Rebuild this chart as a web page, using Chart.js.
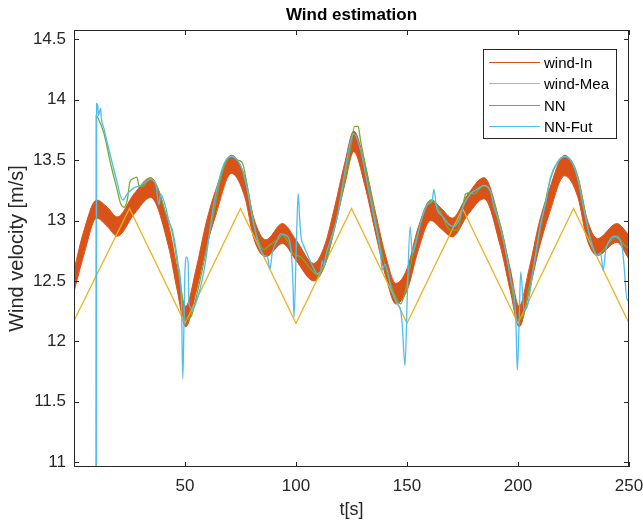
<!DOCTYPE html>
<html>
<head>
<meta charset="utf-8">
<title>Wind estimation</title>
<script src="https://cdn.jsdelivr.net/npm/chart.js@4.4.1/dist/chart.umd.min.js"></script>
<style>
  html, body { margin: 0; padding: 0; background: #ffffff; }
  #wrap { width: 643px; height: 527px; }
</style>
</head>
<body>
<div id="wrap"><canvas id="windChart" width="643" height="527"></canvas></div>
<script>
// Titulos e eixos
const chartTitle = 'Wind estimation';
const xTitle = 't[s]';
const yTitle = 'Wind velocity [m/s]';
const xTicks = [50, 100, 150, 200, 250];
const yTicks = [11, 11.5, 12, 12.5, 13, 13.5, 14, 14.5];

// wind-In: banda (envelope superior / inferior da oscilacao)
const windT = [0, 4.5, 10.2, 15, 19.5, 27, 34.5, 42.5, 46.5, 50.3, 55, 59.5, 63.8, 70.9, 77, 81, 86.4, 93.9, 100, 108, 113, 117.5, 122, 126, 131, 136, 140.5, 145, 150, 155, 160.7, 165.5, 170.4, 177.5, 184.7, 192, 196.5, 200.5, 205, 209.5, 214, 221, 227, 231, 235.8, 244.5, 250];
const windUpper = [12.59, 12.92, 13.17, 13.11, 13.03, 13.22, 13.355, 12.97, 12.6, 12.29, 12.6, 12.98, 13.25, 13.54, 13.36, 13.02, 12.84, 12.975, 12.84, 12.645, 12.8, 13.12, 13.48, 13.74, 13.47, 13.05, 12.7, 12.48, 12.6, 12.94, 13.17, 13.1, 13.02, 13.22, 13.355, 12.97, 12.6, 12.29, 12.6, 12.98, 13.25, 13.54, 13.36, 13.02, 12.85, 12.975, 12.88];
const windLower = [12.41, 12.72, 13.02, 12.95, 12.87, 13.05, 13.19, 12.79, 12.42, 12.12, 12.41, 12.77, 13.04, 13.39, 13.19, 12.85, 12.70, 12.81, 12.67, 12.50, 12.63, 12.95, 13.3, 13.57, 13.29, 12.88, 12.53, 12.31, 12.42, 12.75, 13.0, 12.93, 12.865, 13.05, 13.18, 12.79, 12.42, 12.12, 12.41, 12.77, 13.05, 13.37, 13.19, 12.85, 12.71, 12.82, 12.68];

// wind-Mea
const meaT = [0, 25, 50, 75, 100, 125, 150, 175, 200, 225, 250];
const meaV = [12.17, 13.1, 12.15, 13.1, 12.15, 13.1, 12.15, 13.1, 12.15, 13.1, 12.15];

// NN
const nnT = [9.95, 10.0, 11.0, 13.5, 16.5, 19.5, 21.0, 22.5, 24.0, 25.2, 27.0, 28.3, 29.3, 30.8, 34.5, 38.0, 41.3, 44.3, 46.9, 48.4, 50.3, 52.6, 55.5, 59, 63.1, 66.1, 68.4, 70.9, 73.6, 75.8, 78.1, 80.3, 82.6, 85.6, 88.3, 91.6, 94.0, 96.5, 98.6, 102.0, 106.6, 109.6, 113.3, 115.6, 120.0, 124.6, 126.4, 128.0, 129.1, 132.1, 135.1, 138.1, 140.5, 143.1, 145.6, 147.1, 149.3, 151.6, 154.6, 157.0, 159.1, 161.4, 163.3, 165.8, 169.6, 172.6, 175.0, 176.4, 178.6, 180.1, 184.6, 187.6, 190.7, 193.7, 196.7, 199.7, 202.7, 205.0, 207.2, 210.2, 214.7, 217.7, 221.0, 224.5, 226.7, 229.7, 232.7, 235.7, 237.2, 241.7, 244.7, 247.7, 250.0];
const nnV = [9, 13.87, 13.84, 13.72, 13.47, 13.25, 13.14, 13.11, 13.17, 13.32, 13.35, 13.36, 13.29, 13.28, 13.35, 13.25, 13.06, 12.9, 12.6, 12.42, 12.18, 12.2, 12.4, 12.7, 13.08, 13.35, 13.48, 13.54, 13.5, 13.48, 13.28, 13.05, 12.86, 12.76, 12.8, 12.84, 12.88, 12.82, 12.73, 12.7, 12.6, 12.55, 12.65, 12.8, 13.15, 13.6, 13.78, 13.78, 13.66, 13.38, 13.08, 12.78, 12.6, 12.45, 12.34, 12.31, 12.42, 12.64, 12.87, 13.03, 13.13, 13.17, 13.13, 13.04, 12.92, 12.92, 13.1, 13.22, 13.23, 13.22, 13.29, 13.24, 13.05, 12.83, 12.52, 12.18, 12.23, 12.45, 12.62, 12.95, 13.35, 13.48, 13.53, 13.48, 13.38, 13.12, 12.84, 12.72, 12.73, 12.83, 12.87, 12.8, 12.77];

// NN-Fut
const futT = [10.05, 10.2, 10.7, 11.0, 12.0, 12.3, 13.5, 16.5, 19.5, 21.0, 22.1, 24.0, 27.0, 30.0, 34.5, 36.8, 38.3, 39.0, 41.3, 43.1, 44.3, 46.9, 48.4, 49.0, 49.5, 50.0, 50.8, 51.4, 51.8, 53.3, 54.8, 58.6, 63.1, 66.1, 68.4, 70.9, 73.6, 75.8, 78.1, 80.3, 82.6, 85.6, 87.1, 88.3, 89.3, 91.6, 93.1, 95.3, 97.6, 98.6, 99.1, 100.3, 101.0, 101.7, 102.4, 103.3, 105.1, 108.1, 109.6, 111.1, 111.8, 112.6, 113.3, 115.6, 118.6, 121.6, 124.6, 126.1, 129.1, 132.1, 135.1, 138.1, 138.8, 140.1, 143.1, 145.6, 147.1, 147.8, 149.1, 150.2, 151.4, 152.4, 153.1, 154.6, 156.9, 159.1, 161.4, 162.1, 163.3, 165.8, 168.8, 171.1, 173.3, 175.6, 178.6, 181.6, 184.6, 187.6, 189.2, 190.7, 193.7, 196.7, 199.0, 199.7, 200.5, 201.2, 202.0, 202.7, 204.2, 207.2, 210.2, 212.5, 214.7, 217.7, 221.0, 223.7, 226.7, 229.7, 232.7, 235.7, 237.2, 238.4, 239.5, 241.7, 243.5, 244.7, 247.0, 247.7, 249.2, 250.0];
const futV = [9, 13.97, 13.95, 13.87, 13.93, 13.85, 13.76, 13.53, 13.31, 13.2, 13.17, 13.22, 13.27, 13.29, 13.34, 13.3, 13.13, 13.22, 13.11, 12.97, 12.92, 12.64, 12.34, 11.69, 12.1, 12.59, 12.70, 12.65, 12.31, 12.27, 12.31, 12.59, 13.15, 13.39, 13.5, 13.53, 13.5, 13.42, 13.25, 13.03, 12.84, 12.71, 12.70, 12.6, 12.73, 12.84, 12.89, 12.88, 12.78, 12.5, 12.2, 12.9, 13.22, 13.0, 12.85, 12.8, 12.72, 12.6, 12.56, 12.58, 12.67, 12.62, 12.70, 12.84, 13.03, 13.36, 13.66, 13.72, 13.58, 13.31, 13.03, 12.73, 12.59, 12.64, 12.42, 12.31, 12.26, 12.15, 11.80, 12.42, 12.95, 12.73, 12.755, 12.865, 13.03, 13.13, 13.17, 13.26, 13.11, 13.04, 12.97, 12.95, 13.0, 13.13, 13.22, 13.26, 13.29, 13.24, 13.11, 13.03, 12.81, 12.51, 12.2, 11.76, 12.15, 12.575, 12.42, 12.26, 12.29, 12.64, 12.97, 13.15, 13.36, 13.48, 13.53, 13.5, 13.36, 13.09, 12.84, 12.71, 12.73, 12.59, 12.75, 12.85, 12.87, 12.86, 12.77, 12.64, 12.34, 12.37];

const FONT = '"Liberation Sans", Arial, Helvetica, sans-serif';
const AXIS_COLOR = '#262626';
const colors = { windIn: '#D95319', windMea: '#EDB120', nn: '#77AC30', nnFut: '#4DBEEE' };

function toPoints(ts, vs) {
  return ts.map((t, i) => ({ x: t, y: vs[i] }));
}

// Moldura com ticks para dentro, titulo e legenda (estilo MATLAB)
const matlabFrame = {
  id: 'matlabFrame',
  afterDatasetsDraw(chart) {
    const { ctx, chartArea: a, scales: { x, y } } = chart;
    ctx.save();
    ctx.strokeStyle = AXIS_COLOR;
    ctx.lineWidth = 1;
    ctx.strokeRect(a.left + 0.5, a.top + 0.5, a.right - a.left - 1, a.bottom - a.top - 1);
    const len = 5;
    ctx.beginPath();
    xTicks.forEach(v => {
      const px = Math.round(x.getPixelForValue(v)) + 0.5;
      ctx.moveTo(px, a.bottom); ctx.lineTo(px, a.bottom - len);
      ctx.moveTo(px, a.top); ctx.lineTo(px, a.top + len);
    });
    yTicks.forEach(v => {
      const py = Math.round(y.getPixelForValue(v)) + 0.5;
      ctx.moveTo(a.left, py); ctx.lineTo(a.left + len, py);
      ctx.moveTo(a.right, py); ctx.lineTo(a.right - len, py);
    });
    ctx.stroke();

    // titulo
    ctx.fillStyle = '#000000';
    ctx.font = 'bold 17px ' + FONT;
    ctx.textAlign = 'center';
    ctx.textBaseline = 'middle';
    ctx.fillText(chartTitle, (a.left + a.right) / 2, 15);
    ctx.restore();
  },
  afterDraw(chart) {
    const { ctx, chartArea: a } = chart;
    const items = chart.data.datasets.filter(d => d.inLegend);
    const boxW = 133, boxH = 89;
    const bx = Math.round(a.right - 13 - boxW), by = Math.round(a.top + 19);
    ctx.save();
    ctx.fillStyle = '#ffffff';
    ctx.fillRect(bx, by, boxW, boxH);
    ctx.strokeStyle = AXIS_COLOR;
    ctx.lineWidth = 1;
    ctx.strokeRect(bx + 0.5, by + 0.5, boxW, boxH);
    ctx.font = '15px ' + FONT;
    ctx.textAlign = 'left';
    ctx.textBaseline = 'middle';
    items.forEach((d, i) => {
      const ly = Math.floor(by + 13 + i * 21.5) + 0.5;
      ctx.strokeStyle = d.borderColor;
      ctx.lineWidth = 1;
      ctx.beginPath();
      ctx.moveTo(bx + 6, ly);
      ctx.lineTo(bx + 57, ly);
      ctx.stroke();
      ctx.fillStyle = '#000000';
      ctx.fillText(d.label, bx + 61, ly + 1);
    });
    ctx.restore();
  }
};

const ctx = document.getElementById('windChart').getContext('2d');
const windChart = new Chart(ctx, {
  type: 'line',
  data: {
    datasets: [{
      label: 'wind-In',
      inLegend: true,
      data: toPoints(windT, windUpper),
      borderColor: colors.windIn,
      backgroundColor: colors.windIn,
      borderWidth: 1,
      cubicInterpolationMode: 'monotone',
      fill: '+1',
      order: 4
    }, {
      label: 'wind-In (min)',
      inLegend: false,
      data: toPoints(windT, windLower),
      borderColor: colors.windIn,
      backgroundColor: colors.windIn,
      borderWidth: 1,
      cubicInterpolationMode: 'monotone',
      fill: false,
      order: 4
    }, {
      label: 'wind-Mea',
      inLegend: true,
      data: toPoints(meaT, meaV),
      borderColor: colors.windMea,
      borderWidth: 1.3,
      tension: 0,
      fill: false,
      order: 3
    }, {
      label: 'NN',
      inLegend: true,
      data: toPoints(nnT, nnV),
      borderColor: colors.nn,
      borderWidth: 1.3,
      cubicInterpolationMode: 'monotone',
      fill: false,
      order: 2
    }, {
      label: 'NN-Fut',
      inLegend: true,
      data: toPoints(futT, futV),
      borderColor: colors.nnFut,
      borderWidth: 1.3,
      cubicInterpolationMode: 'monotone',
      fill: false,
      order: 1
    }]
  },
  options: {
    responsive: false,
    animation: false,
    layout: { padding: { top: 30, right: 14, left: 0, bottom: 0 } },
    elements: { point: { radius: 0 } },
    plugins: {
      legend: { display: false },
      title: { display: false },
      tooltip: { enabled: false }
    },
    scales: {
      x: {
        type: 'linear',
        min: 0,
        max: 250,
        grid: { display: false, drawTicks: false },
        border: { display: false },
        afterBuildTicks: s => { s.ticks = xTicks.map(v => ({ value: v })); },
        afterFit: s => { s.height = 60; s.paddingLeft = 0; s.paddingRight = 0; },
        ticks: {
          color: AXIS_COLOR,
          font: { family: FONT, size: 17 },
          padding: 9,
          maxRotation: 0,
          autoSkip: false
        },
        title: {
          display: true,
          text: xTitle,
          color: AXIS_COLOR,
          font: { family: FONT, size: 18 },
          padding: { top: 0, bottom: 6 }
        }
      },
      y: {
        type: 'linear',
        min: 10.96,
        max: 14.577,
        grid: { display: false, drawTicks: false },
        border: { display: false },
        afterBuildTicks: s => { s.ticks = yTicks.map(v => ({ value: v })); },
        afterFit: s => { s.width = 74; s.paddingTop = 0; s.paddingBottom = 0; },
        ticks: {
          color: AXIS_COLOR,
          font: { family: FONT, size: 17 },
          padding: 8,
          callback: v => String(v)
        },
        title: {
          display: true,
          text: yTitle,
          color: AXIS_COLOR,
          font: { family: FONT, size: 20 },
          padding: { top: 5, bottom: 0 }
        }
      }
    }
  },
  plugins: [matlabFrame]
});
</script>
</body>
</html>
